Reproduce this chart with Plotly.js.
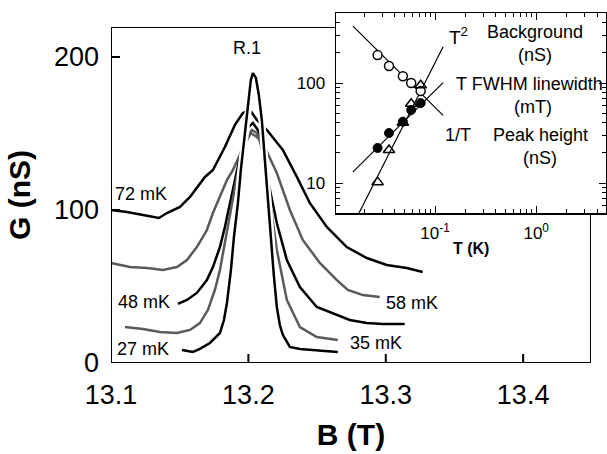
<!DOCTYPE html>
<html>
<head>
<meta charset="utf-8">
<script src="https://cdn.plot.ly/plotly-3.0.1.min.js"></script>
<style>
html,body{margin:0;padding:0;background:#fff}
#wrap{position:relative;width:607px;height:454px;overflow:hidden}
#chart{position:absolute;left:0;top:0;width:607px;height:454px}
#inset{position:absolute;left:290px;top:0;width:317px;height:270px}
</style>
</head>
<body>
<div id="wrap"><div id="chart"></div><div id="inset"></div></div>
<script>
// ---- main panel data: conductance G (nS) vs field B (T), curves offset for clarity ----
const B_72 = [13.1000,13.1116,13.1233,13.1349,13.1407,13.1502,13.1575,13.1625,13.1684,13.1742,13.1829,13.1902,13.1960,13.2011,13.2062,13.2135,13.2251,13.2353,13.2447,13.2571,13.2716,13.2862,13.3007,13.3153,13.3269];
const G_72 = [100.0,98.7,96.7,94.8,98.0,102.0,108.5,114.4,121.6,126.1,141.2,155.6,163.4,165.4,158.8,152.3,139.2,121.6,104.6,88.9,75.8,68.6,64.1,62.1,59.5];

const B_58 = [13.1000,13.1138,13.1262,13.1378,13.1480,13.1553,13.1625,13.1698,13.1742,13.1793,13.1844,13.1887,13.1938,13.1982,13.2018,13.2062,13.2105,13.2207,13.2302,13.2396,13.2520,13.2644,13.2724,13.2833,13.2956];
const G_58 = [65.4,62.7,62.1,60.8,62.7,67.3,75.8,86.9,98.0,108.5,119.6,126.1,136.0,144.4,150.3,147.7,143.8,124.2,100.0,80.4,65.4,54.2,47.7,44.4,43.1];

const B_48 = [13.1487,13.1553,13.1625,13.1698,13.1742,13.1793,13.1829,13.1865,13.1895,13.1924,13.1960,13.1996,13.2033,13.2069,13.2105,13.2142,13.2207,13.2280,13.2375,13.2498,13.2644,13.2738,13.2862,13.2978,13.3138];
const G_48 = [38.6,41.2,45.8,54.2,62.7,75.8,88.9,104.6,117.6,129.4,143.8,153.6,156.9,152.3,137.9,119.6,91.5,67.3,49.7,36.6,31.4,28.1,26.1,25.5,25.5];

const B_35 = [13.1102,13.1233,13.1356,13.1480,13.1575,13.1647,13.1705,13.1756,13.1793,13.1829,13.1858,13.1887,13.1916,13.1953,13.1989,13.2025,13.2062,13.2105,13.2156,13.2207,13.2280,13.2375,13.2498,13.2651];
const G_35 = [23.5,22.2,20.3,19.6,21.6,26.1,34.6,47.7,60.8,78.4,93.5,108.5,121.6,136.0,147.1,152.3,150.3,139.2,106.5,73.9,41.2,23.5,17.0,15.0];

const B_27 = [13.1516,13.1596,13.1647,13.1720,13.1793,13.1822,13.1844,13.1873,13.1895,13.1924,13.1945,13.1975,13.1996,13.2018,13.2033,13.2055,13.2076,13.2098,13.2120,13.2142,13.2164,13.2185,13.2207,13.2229,13.2251,13.2302,13.2375,13.2447,13.2556,13.2651];
const G_27 = [8.5,7.2,9.2,13.1,19.6,28.1,39.2,60.8,82.4,104.6,126.1,149.0,167.3,185.0,189.5,186.3,175.2,158.8,132.7,106.5,80.4,57.5,36.6,24.8,18.3,10.5,9.2,8.5,7.8,7.2];

const mainXTicks = [13.1, 13.2, 13.3, 13.4];
const mainYTicks = [0, 100, 200];
const mainXRange = [13.1, 13.4494];
const mainYRange = [0, 219.6];

// ---- inset data: vs temperature T (K) ----
const T_pts = [0.027, 0.035, 0.048, 0.058, 0.072];
const background_nS = [190, 148, 117, 100, 83];
const peakHeight_nS = [22.4, 31.6, 41, 53.7, 63];
const fwhm_mT = [10.2, 21.4, 40, 62, 95];

const fitInvT_T = [0.0154, 0.12];   const fitInvT_y = [370, 47.5];
const fitT_T    = [0.0154, 0.12];   const fitT_y    = [12.9, 100.8];
const fitT2_T   = [0.0175, 0.12];   const fitT2_y   = [4.9, 230];

const insetXTicks = [0.1, 1];
const insetXTickText = ['10<sup>-1</sup>', '10<sup>0</sup>'];
const insetXMinor = [0.02,0.03,0.04,0.05,0.06,0.07,0.08,0.09,0.2,0.3,0.4,0.5,0.6,0.7,0.8,0.9,2,3,4];
const insetYTicks = [10, 100];
const insetYTickText = ['10', '100'];
const insetYMinor = [6,7,8,9,20,30,40,50,60,70,80,90,200,300,400];

const FONT = 'Liberation Sans, Arial, sans-serif';
const GRAY = '#5a5a5a';
const PLOT_W = 480, PLOT_H = 336, TICK_PX = 9;

function curve(x, y, color, width) {
  return {x: x, y: y, type: 'scatter', mode: 'lines',
          line: {color: color, width: width}, hoverinfo: 'skip', showlegend: false};
}

// ---- frame and inside ticks of the main panel, built from the axis ranges and tick arrays ----
const [x0, x1] = mainXRange, [y0, y1] = mainYRange;
const tickDy = TICK_PX / PLOT_H * (y1 - y0);
const tickDx = TICK_PX / PLOT_W * (x1 - x0);
const frameX = [x0, x1, x1, x0, x0];
const frameY = [y0, y0, y1, y1, y0];
const tickX = [], tickY = [];
mainXTicks.slice(1).forEach(v => { tickX.push(v, v, null); tickY.push(y0, y0 + tickDy, null); });
mainYTicks.slice(1).forEach(v => { tickX.push(x0, x0 + tickDx, null); tickY.push(v, v, null); });

const mx = v => (v - 111) / 480;
const my = v => (363 - v) / 336;
function mann(text, x, y, size) {
  return {text: text, x: mx(x), y: my(y), xref: 'paper', yref: 'paper', showarrow: false,
    xanchor: 'center', yanchor: 'middle', font: {family: FONT, size: size, color: '#000'}};
}

const mainTraces = [
  curve(B_72, G_72, '#000', 2.5),
  curve(B_58, G_58, GRAY, 2.5),
  curve(B_48, G_48, '#000', 2.5),
  curve(B_35, G_35, GRAY, 2.5),
  curve(B_27, G_27, '#fff', 7),
  curve(B_27, G_27, '#000', 2.5),
  Object.assign(curve(tickX, tickY, '#000', 2), {cliponaxis: false, connectgaps: false}),
  Object.assign(curve(frameX, frameY, '#000', 2), {cliponaxis: false})
];

const mainLayout = {
  width: 607, height: 454,
  margin: {l: 111, r: 16, t: 27, b: 91},
  paper_bgcolor: '#fff', plot_bgcolor: '#fff',
  showlegend: false,
  font: {family: FONT, color: '#000'},
  xaxis: {
    range: mainXRange, tickmode: 'array', tickvals: mainXTicks, ticktext: mainXTicks.map(v => v.toFixed(1)),
    ticks: '', showline: false, showgrid: false, zeroline: false,
    tickfont: {family: FONT, size: 27}, ticklabelstandoff: 13,
    title: {text: '<b>B (T)</b>', font: {family: FONT, size: 30}, standoff: 14}
  },
  yaxis: {
    range: mainYRange, tickmode: 'array', tickvals: mainYTicks, ticktext: mainYTicks.map(String),
    ticks: '', showline: false, showgrid: false, zeroline: false,
    tickfont: {family: FONT, size: 27}, ticklabelstandoff: 11,
    title: {text: '<b>G (nS)</b>', font: {family: FONT, size: 30}, standoff: 14}
  },
  annotations: [
    mann('R.1', 247, 48, 18),
    mann('72 mK', 141, 194, 18),
    mann('48 mK', 144, 302, 18),
    mann('27 mK', 143, 349, 18),
    mann('58 mK', 412, 303, 18),
    mann('35 mK', 376, 343, 18)
  ]
};

// ---------------- inset chart ----------------
const ix = v => (v - 336) / 270;
const iy = v => (213 - v) / 200;
function iann(text, x, y, size) {
  return {text: text, x: ix(x), y: iy(y), xref: 'paper', yref: 'paper', showarrow: false,
    xanchor: 'center', yanchor: 'middle', font: {family: FONT, size: size, color: '#000'}};
}

const insetTraces = [
  {x: fitInvT_T, y: fitInvT_y, mode: 'lines', line: {color: '#000', width: 1.2}, showlegend: false, hoverinfo: 'skip'},
  {x: fitT_T, y: fitT_y, mode: 'lines', line: {color: '#000', width: 1.2}, showlegend: false, hoverinfo: 'skip'},
  {x: fitT2_T, y: fitT2_y, mode: 'lines', line: {color: '#000', width: 1.2}, showlegend: false, hoverinfo: 'skip'},
  {x: T_pts, y: background_nS, mode: 'markers', showlegend: false, hoverinfo: 'skip',
   marker: {symbol: 'circle', size: 9, color: '#fff', line: {color: '#000', width: 1.5}}},
  {x: T_pts, y: fwhm_mT, mode: 'markers', showlegend: false, hoverinfo: 'skip',
   marker: {symbol: 'triangle-up', size: 10, color: 'rgba(255,255,255,0)', line: {color: '#000', width: 1.5}}},
  {x: T_pts, y: peakHeight_nS, mode: 'markers', showlegend: false, hoverinfo: 'skip',
   marker: {symbol: 'circle', size: 9, color: '#000', line: {color: '#000', width: 1}}}
];

const insetLayout = {
  width: 317, height: 270,
  margin: {l: 46, r: 1, t: 13, b: 57},
  paper_bgcolor: 'rgba(0,0,0,0)', plot_bgcolor: '#fff',
  showlegend: false,
  font: {family: FONT, color: '#000'},
  xaxis: {
    type: 'log', range: [-1.98, 0.69], tickmode: 'array', tickvals: insetXTicks, ticktext: insetXTickText,
    ticks: 'inside', ticklen: 7, tickwidth: 1, tickcolor: '#000',
    minor: {tickmode: 'array', tickvals: insetXMinor, ticks: 'inside', ticklen: 4, tickwidth: 1, tickcolor: '#000', showgrid: false},
    showline: true, linecolor: '#000', linewidth: 1.5, mirror: 'allticks',
    showgrid: false, zeroline: false,
    tickfont: {family: FONT, size: 17}, ticklabelstandoff: 4
  },
  yaxis: {
    type: 'log', range: [0.7, 2.7], tickmode: 'array', tickvals: insetYTicks, ticktext: insetYTickText,
    ticks: 'inside', ticklen: 7, tickwidth: 1, tickcolor: '#000',
    minor: {tickmode: 'array', tickvals: insetYMinor, ticks: 'inside', ticklen: 4, tickwidth: 1, tickcolor: '#000', showgrid: false},
    showline: true, linecolor: '#000', linewidth: 1.5, mirror: 'allticks',
    showgrid: false, zeroline: false,
    tickfont: {family: FONT, size: 17}, ticklabelstandoff: 6
  },
  annotations: [
    iann('<b>T (K)</b>', 471, 248, 16),
    iann('T<sup>2</sup>', 458, 36, 19),
    iann('Background', 535, 32, 18),
    iann('(nS)', 535, 55, 18),
    iann('T FWHM linewidth', 529, 84, 18),
    iann('(mT)', 533, 107, 18),
    iann('1/T', 458, 135, 18),
    iann('Peak height', 540, 135, 18),
    iann('(nS)', 540, 158, 18)
  ]
};

const cfg = {staticPlot: true, displayModeBar: false};
Plotly.newPlot('chart', mainTraces, mainLayout, cfg);
Plotly.newPlot('inset', insetTraces, insetLayout, cfg);
</script>
</body>
</html>
